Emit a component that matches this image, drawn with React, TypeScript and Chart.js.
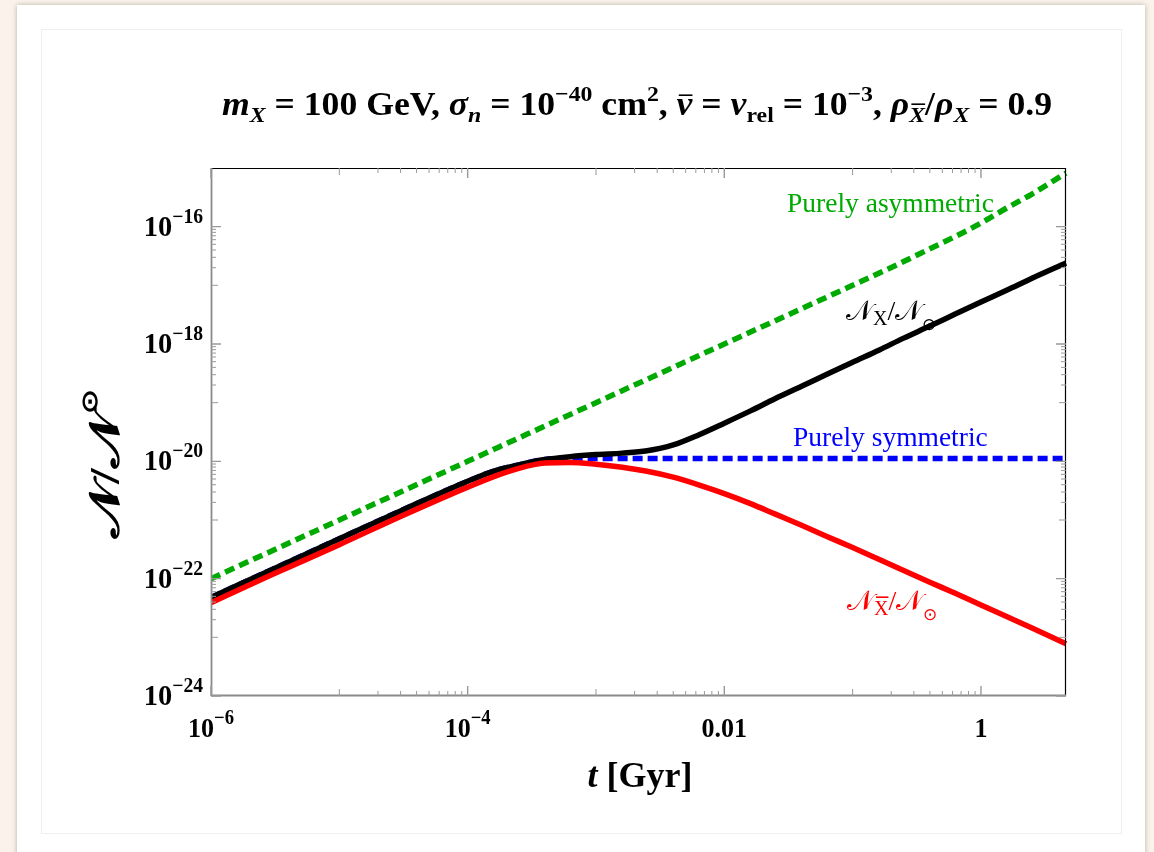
import React, { useEffect, useRef } from "react";
import { Chart, registerables } from "chart.js";
Chart.register(...registerables);

// ---- data ----
const tValues = [1e-6, 3e-6, 1e-5, 3e-5, 1e-4, 1.6e-4, 2.5e-4, 4e-4, 6.3e-4, 1e-3, 1.6e-3, 2.5e-3, 4e-3, 6.3e-3, 0.01, 0.016, 0.025, 0.04, 0.063, 0.1, 0.16, 0.25, 0.4, 0.63, 1, 1.6, 2.5, 4.6];
const nX = [4.79e-23, 1.435e-22, 4.79e-22, 1.43e-21, 4.57e-21, 6.84e-21, 8.71e-21, 1.072e-20, 1.202e-20, 1.303e-20, 1.38e-20, 1.514e-20, 1.905e-20, 2.818e-20, 4.467e-20, 7.244e-20, 1.175e-19, 1.905e-19, 3.055e-19, 4.898e-19, 7.852e-19, 1.259e-18, 2.018e-18, 3.236e-18, 5.188e-18, 8.318e-18, 1.318e-17, 2.399e-17];
const nXbar = [3.89e-23, 1.175e-22, 3.8e-22, 1.148e-21, 3.63e-21, 5.5e-21, 7.59e-21, 9.33e-21, 9.55e-21, 8.91e-21, 7.94e-21, 6.76e-21, 5.37e-21, 3.98e-21, 2.82e-21, 1.905e-21, 1.259e-21, 8.13e-22, 5.25e-22, 3.39e-22, 2.14e-22, 1.38e-22, 8.71e-23, 5.62e-23, 3.55e-23, 2.24e-23, 1.445e-23, 7.76e-24];
const nAsym = [1e-22, 3.0e-22, 1e-21, 3.0e-21, 1e-20, 1.6e-20, 2.5e-20, 4e-20, 6.3e-20, 1e-19, 1.6e-19, 2.5e-19, 4e-19, 6.3e-19, 1e-18, 1.6e-18, 2.5e-18, 4e-18, 6.3e-18, 1.0e-17, 1.6e-17, 2.55e-17, 4.2e-17, 6.8e-17, 1.15e-16, 2.1e-16, 3.6e-16, 8.2e-16];
const nSym = [4.79e-23, 1.435e-22, 4.79e-22, 1.43e-21, 4.57e-21, 6.84e-21, 8.71e-21, 1.08e-20, 1.12e-20, 1.12e-20, 1.12e-20, 1.12e-20, 1.12e-20, 1.12e-20, 1.12e-20, 1.12e-20, 1.12e-20, 1.12e-20, 1.12e-20, 1.12e-20, 1.12e-20, 1.12e-20, 1.12e-20, 1.12e-20, 1.12e-20, 1.12e-20, 1.12e-20, 1.12e-20];

const xMin = 1e-6;
const xMax = 4.6;
const yMin = 1e-24;
const yMax = 1e-15;
const xTickValues = [1e-6, 1e-4, 0.01, 1];
const xTickBases = ["10", "10", "0.01", "1"];
const xTickExps = ["−6", "−4", "", ""];
const yTickValues = [1e-24, 1e-22, 1e-20, 1e-18, 1e-16];
const yTickBases = ["10", "10", "10", "10", "10"];
const yTickExps = ["−24", "−22", "−20", "−18", "−16"];

const labelAsym = "Purely asymmetric";
const labelSym = "Purely symmetric";
const SCRIPT_N = "𝒩";

// ---- text helpers ----
const SERIF = '"Liberation Serif", "Times New Roman", serif';
const fnt = (size: number, italic = false, bold = true) =>
  `${italic ? "italic " : ""}${bold ? "bold " : ""}${size}px ${SERIF}`;

interface Run { t: string; f: string; dy?: number; bar?: boolean; c?: string }

function runsWidth(ctx: CanvasRenderingContext2D, runs: Run[]) {
  let w = 0;
  for (const r of runs) { ctx.font = r.f; w += ctx.measureText(r.t).width; }
  return w;
}

function drawRuns(ctx: CanvasRenderingContext2D, runs: Run[], x: number, y: number,
  align: "left" | "center" | "right", hs = 1, color = "#000") {
  const w = runsWidth(ctx, runs) * hs;
  const sx = align === "center" ? x - w / 2 : align === "right" ? x - w : x;
  ctx.save();
  ctx.translate(sx, y);
  ctx.scale(hs, 1);
  ctx.textBaseline = "alphabetic";
  ctx.textAlign = "left";
  let cx = 0;
  for (const r of runs) {
    ctx.font = r.f;
    ctx.fillStyle = r.c || color;
    const m = ctx.measureText(r.t);
    ctx.fillText(r.t, cx, r.dy || 0);
    if (r.bar) {
      const top = (r.dy || 0) - m.actualBoundingBoxAscent - 3;
      ctx.fillRect(cx + 2, top - 1.6, m.width - 2, 1.6);
    }
    cx += m.width;
  }
  ctx.restore();
}

const overlayPlugin = {
  id: "overlay",
  afterDraw(chart: any) {
    const ctx: CanvasRenderingContext2D = chart.ctx;
    const { left, right, top, bottom } = chart.chartArea;
    const xs = chart.scales.x;
    const ys = chart.scales.y;
    ctx.save();
    // frame
    ctx.lineCap = "butt";
    ctx.strokeStyle = "#000";
    ctx.lineWidth = 1.2;
    ctx.beginPath();
    ctx.moveTo(left, top + 0.5); ctx.lineTo(right, top + 0.5);
    ctx.moveTo(right - 0.5, top); ctx.lineTo(right - 0.5, bottom);
    ctx.stroke();
    ctx.strokeStyle = "#8a8a8a";
    ctx.lineWidth = 1.8;
    ctx.beginPath();
    ctx.moveTo(left + 0.5, top); ctx.lineTo(left + 0.5, bottom);
    ctx.moveTo(left, bottom - 0.5); ctx.lineTo(right, bottom - 0.5);
    ctx.stroke();

    // ticks
    const tick = (px: number, horizontal: boolean, len: number, w: number) => {
      ctx.lineWidth = w;
      ctx.strokeStyle = "#999";
      ctx.beginPath();
      if (horizontal) {
        ctx.moveTo(px, bottom); ctx.lineTo(px, bottom - len);
        ctx.moveTo(px, top); ctx.lineTo(px, top + len);
      } else {
        ctx.moveTo(left, px); ctx.lineTo(left + len, px);
        ctx.moveTo(right, px); ctx.lineTo(right - len, px);
      }
      ctx.stroke();
    };
    for (const v of xTickValues) {
      for (let k = 1; k <= 9; k++) {
        const mv = (k * v) / 10;
        if (mv < xMin * 0.999 || mv > xMax) continue;
        tick(xs.getPixelForValue(mv), true, k === 1 ? 7 : 5, 1);
      }
      tick(xs.getPixelForValue(v), true, 10, 1.4);
    }
    for (const v of yTickValues) {
      for (let k = 1; k <= 9; k++) {
        const mv = (k * v) / 10;
        if (mv < yMin * 0.999 || mv > yMax) continue;
        tick(ys.getPixelForValue(mv), false, k === 1 ? 7 : 5, 1);
      }
      tick(ys.getPixelForValue(v), false, 10, 1.4);
    }

    // tick labels
    xTickValues.forEach((v, i) => {
      const p = xs.getPixelForValue(v);
      const runs: Run[] = [{ t: xTickBases[i], f: fnt(28) }];
      if (xTickExps[i]) runs.push({ t: xTickExps[i], f: fnt(20), dy: -13 });
      drawRuns(ctx, runs, p, bottom + 41, "center", 0.93);
    });
    yTickValues.forEach((v, i) => {
      const p = ys.getPixelForValue(v);
      const runs: Run[] = [{ t: yTickBases[i], f: fnt(29) }, { t: yTickExps[i], f: fnt(20), dy: -13 }];
      drawRuns(ctx, runs, left - 8, p + 9, "right", 0.98);
    });

    // title
    const F = 33, S = 22;
    const title: Run[] = [
      { t: "m", f: fnt(F, true) }, { t: "X", f: fnt(S, true), dy: 7 },
      { t: " = 100 GeV, ", f: fnt(F) },
      { t: "σ", f: fnt(F, true) }, { t: "n", f: fnt(S, true), dy: 7 },
      { t: " = 10", f: fnt(F) }, { t: "−40", f: fnt(S), dy: -14 },
      { t: " cm", f: fnt(F) }, { t: "2", f: fnt(S), dy: -14 },
      { t: ", ", f: fnt(F) },
      { t: "v", f: fnt(F, true), bar: true },
      { t: " = ", f: fnt(F) },
      { t: "v", f: fnt(F, true) }, { t: "rel", f: fnt(S), dy: 7 },
      { t: " = 10", f: fnt(F) }, { t: "−3", f: fnt(S), dy: -14 },
      { t: ", ", f: fnt(F) },
      { t: "ρ", f: fnt(F, true) }, { t: "X", f: fnt(S, true), dy: 7, bar: true },
      { t: "/", f: fnt(F) },
      { t: "ρ", f: fnt(F, true) }, { t: "X", f: fnt(S, true), dy: 7 },
      { t: " = 0.9", f: fnt(F) },
    ];
    const tw = runsWidth(ctx, title);
    drawRuns(ctx, title, 637, 115, "center", 830 / tw);

    // x-axis title
    drawRuns(ctx, [{ t: "t", f: fnt(36, true) }, { t: " [Gyr]", f: fnt(36) }], 640, 787, "center");

    // y-axis title
    ctx.save();
    ctx.translate(106, 464);
    ctx.rotate(-Math.PI / 2);
    drawRuns(ctx, [
      { t: SCRIPT_N, f: fnt(42, false) },
      { t: "/", f: fnt(42) },
      { t: SCRIPT_N, f: fnt(42, false) },
      { t: "⊙", f: fnt(22, false), dy: -22 },
    ], 0, 13, "center", 1.35);
    ctx.restore();

    // annotations
    drawRuns(ctx, [{ t: labelAsym, f: fnt(27.5, false, false) }], 787, 212, "left", 1, "#00aa00");
    drawRuns(ctx, [{ t: labelSym, f: fnt(27.5, false, false) }], 793, 446, "left", 1, "#0000ff");
    drawRuns(ctx, [
      { t: SCRIPT_N, f: fnt(28, false, false) },
      { t: "X", f: fnt(20, false, false), dy: 5 },
      { t: "/", f: fnt(28, false, false) },
      { t: SCRIPT_N, f: fnt(28, false, false) },
      { t: "⊙", f: fnt(17, false, false), dy: 10 },
    ], 846, 320, "left", 1, "#000");
    drawRuns(ctx, [
      { t: SCRIPT_N, f: fnt(28, false, false) },
      { t: "X", f: fnt(20, false, false), dy: 5, bar: true },
      { t: "/", f: fnt(28, false, false) },
      { t: SCRIPT_N, f: fnt(28, false, false) },
      { t: "⊙", f: fnt(17, false, false), dy: 10 },
    ], 847, 610, "left", 1, "#ff0000");
    ctx.restore();
  },
};

function ChartCanvas() {
  const ref = useRef<HTMLCanvasElement | null>(null);
  useEffect(() => {
    if (!ref.current) return;
    const mk = (vals: number[]) => tValues.map((t, i) => ({ x: t, y: vals[i] }));
    const common = {
      pointRadius: 0,
      fill: false,
      cubicInterpolationMode: "monotone" as const,
      clip: { left: 0, top: 0, right: 3, bottom: 0 },
    };
    const chart = new Chart(ref.current, {
      type: "line",
      data: {
        datasets: [
          { ...common, label: "Nbar", data: mk(nXbar), borderColor: "#ff0000", borderWidth: 5.5 },
          { ...common, label: "NX", data: mk(nX), borderColor: "#000000", borderWidth: 5.5 },
          { ...common, label: labelAsym, data: mk(nAsym), borderColor: "#00aa00", borderWidth: 5.5, borderDash: [10, 5.5] },
          { ...common, label: labelSym, data: mk(nSym), borderColor: "#0000ff", borderWidth: 5.5, borderDash: [10, 5] },
        ],
      },
      options: {
        animation: false,
        responsive: false,
        maintainAspectRatio: false,
        layout: { padding: { left: 211, top: 168, right: 88, bottom: 156 } },
        plugins: { legend: { display: false }, tooltip: { enabled: false }, title: { display: false } },
        scales: {
          x: { type: "logarithmic", min: xMin, max: xMax, display: false },
          y: { type: "logarithmic", min: yMin, max: yMax, display: false },
        },
      },
      plugins: [overlayPlugin],
    });
    return () => chart.destroy();
  }, []);
  return (
    <canvas ref={ref} width={1154} height={852}
      style={{ position: "absolute", left: 0, top: 0, width: 1154, height: 852 }} />
  );
}

export default function App() {
  return (
    <div style={{ position: "fixed", left: 0, top: 0, width: 1154, height: 852, background: "#fbf3eb", overflow: "hidden" }}>
      <div style={{ position: "absolute", left: 17, top: 5, width: 1128, height: 900, background: "#fff", boxShadow: "0 0 5px rgba(0,0,0,0.28)" }} />
      <div style={{ position: "absolute", left: 41, top: 29, width: 1081, height: 805, border: "1px solid #efefef", boxSizing: "border-box" }} />
      <ChartCanvas />
    </div>
  );
}
